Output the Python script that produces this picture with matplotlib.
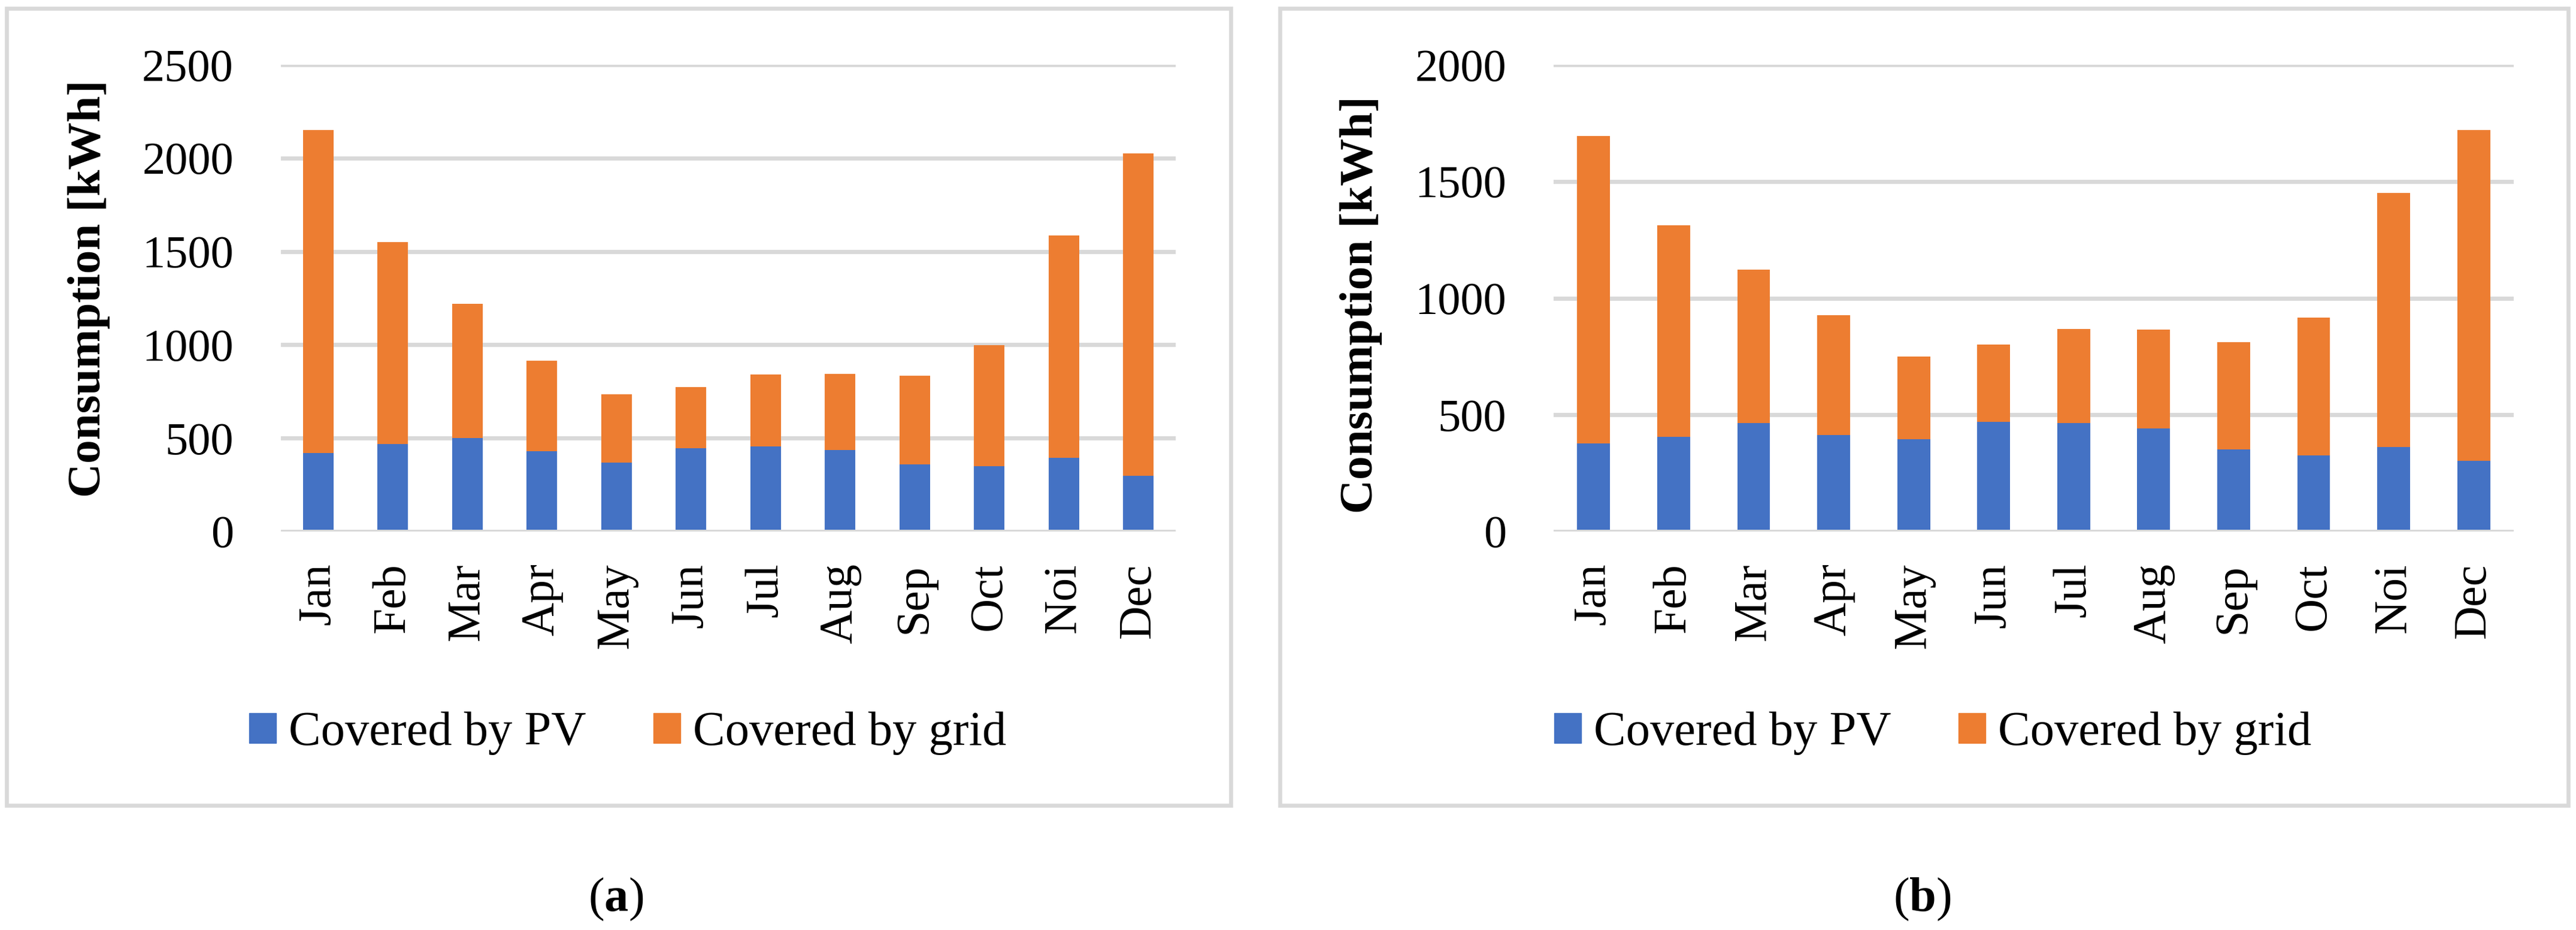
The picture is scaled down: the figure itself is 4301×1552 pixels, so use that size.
import numpy as np
import matplotlib
matplotlib.use("Agg")
import matplotlib.pyplot as plt
from matplotlib.patches import Rectangle, Patch

plt.rcParams['font.family'] = ['Liberation Serif', 'DejaVu Serif']
plt.rcParams['mathtext.fontset'] = 'custom'
plt.rcParams['mathtext.rm'] = 'Liberation Serif'
plt.rcParams['mathtext.bf'] = 'Liberation Serif:bold'

months = ['Jan', 'Feb', 'Mar', 'Apr', 'May', 'Jun', 'Jul', 'Aug', 'Sep', 'Oct', 'Noi', 'Dec']

# (a) total consumption and part covered by PV
total_a = [2151, 1549, 1220, 914, 734, 774, 840, 843, 834, 997, 1586, 2026]
pv_a = [420, 469, 500, 431, 369, 446, 457, 437, 360, 351, 394, 300]

# (b)
total_b = [1694, 1312, 1122, 926, 750, 802, 869, 866, 811, 917, 1451, 1719]
pv_b = [377, 405, 464, 414, 395, 469, 464, 441, 352, 327, 363, 302]

yticks_a = [0, 500, 1000, 1500, 2000, 2500]
yticks_b = [0, 500, 1000, 1500, 2000]

BLUE = '#4472C4'
ORANGE = '#ED7D31'
GRID = '#D9D9D9'

W, H = 4301, 1552
fig = plt.figure(figsize=(W / 100, H / 100), dpi=100)


def fx(px):
    return px / W


def fy(py):
    return 1 - py / H


def panel(x0, x1, total, pv, yticks, frame, ylab_xy, legend_xy, tag, tag_xy):
    """ Un panneau : cadre, barres empilées, légende et étiquette """
    # cadre gris autour du graphique
    fig.patches.append(Rectangle((fx(frame[0]), fy(frame[3])),
                                 fx(frame[1] - frame[0]), (frame[3] - frame[2]) / H,
                                 transform=fig.transFigure, fill=False,
                                 edgecolor=GRID, linewidth=4.8))
    ax = fig.add_axes([fx(x0), fy(887), fx(x1 - x0), (887 - 108) / H])
    x = np.arange(len(months))
    grid_part = np.array(total) - np.array(pv)
    ax.bar(x, pv, width=0.41, color=BLUE, zorder=2)
    ax.bar(x, grid_part, width=0.41, bottom=pv, color=ORANGE, zorder=2)
    for t in yticks[1:]:
        ax.axhline(t, color=GRID, linewidth=5, zorder=1)
    ax.axhline(0, color=GRID, linewidth=5, zorder=3)
    ax.set_xlim(-0.5, len(months) - 0.5)
    ax.set_ylim(0, yticks[-1])
    ax.set_yticks(yticks)
    ax.set_xticks(x)
    ax.set_xticklabels(months, rotation=90)
    ax.tick_params(axis='y', length=0, pad=57, labelsize=55)
    ax.tick_params(axis='x', length=0, pad=38, labelsize=56)
    for s in ax.spines.values():
        s.set_visible(False)
    ax.set_clip_on(False)
    fig.text(fx(ylab_xy[0]), fy(ylab_xy[1]), 'Consumption [kWh]', rotation=90,
             ha='center', va='center', fontsize=57, fontweight='bold')
    handles = [Patch(color=BLUE, label='Covered by PV'),
               Patch(color=ORANGE, label='Covered by grid')]
    fig.legend(handles=handles, loc='center', ncol=2, frameon=False,
               bbox_to_anchor=(fx(legend_xy[0]), fy(legend_xy[1])),
               fontsize=58, handlelength=0.56, handleheight=0.56,
               handletextpad=0.26, columnspacing=1.4, borderpad=0)
    fig.text(fx(tag_xy[0]), fy(tag_xy[1]), '($\\mathbf{' + tag + '}$)',
             ha='center', va='center', fontsize=58)
    return ax


panel(469, 1963, total_a, pv_a, yticks_a, (11, 2055, 14, 1344),
      (149, 482), (1048, 1224), 'a', (1028, 1501))
panel(2594, 4197, total_b, pv_b, yticks_b, (2137, 4288, 14, 1344),
      (2273, 509), (3227, 1224), 'b', (3209, 1501))

fig.savefig('out.png', dpi=100, facecolor='white')
